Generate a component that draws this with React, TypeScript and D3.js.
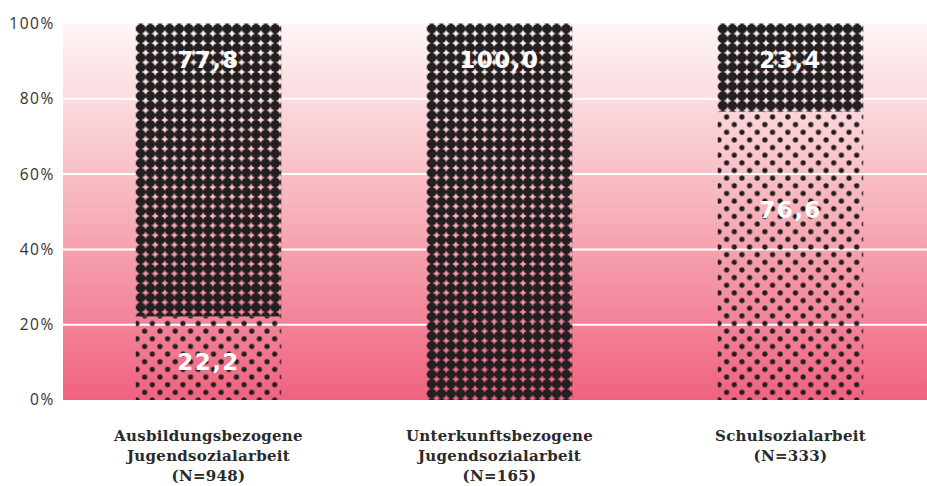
import React from "react";
import * as d3 from "d3";

// Arbeitsfelder der Jugendsozialarbeit, Anteile in Prozent
const categories = [
  ["Ausbildungsbezogene", "Jugendsozialarbeit", "(N=948)"],
  ["Unterkunftsbezogene", "Jugendsozialarbeit", "(N=165)"],
  ["Schulsozialarbeit", "(N=333)"],
];
const lowerValues = [22.2, 0, 76.6]; // hell gepunkteter Anteil
const upperValues = [77.8, 100.0, 23.4]; // dunkel gepunkteter Anteil
const yTicks = [0, 20, 40, 60, 80, 100];

const W = 927;
const H = 486;
const plotLeft = 63;
const plotTop = 23.5;
const plotBottom = 400;
// vertical nudges (px) for the lower-segment labels
const lowerLabelNudge = [4, 0, -46];

const fmt = (v: number) => d3.format(".1f")(v).replace(".", ",");

export default function App() {
  const ids = categories.map((_, i) => String(i));
  const x = d3
    .scaleBand<string>()
    .domain(ids)
    .range([plotLeft, 936])
    .paddingInner(0.5)
    .paddingOuter(0.25);
  const y = d3.scaleLinear().domain([0, 100]).range([plotBottom, plotTop]);
  const bw = x.bandwidth();

  const rows = ids.map((id, i) => ({ id, lower: lowerValues[i], upper: upperValues[i] }));
  const stack = d3.stack<any>().keys(["lower", "upper"])(rows);

  const dark = "#231f20";
  const dStep = 9.6;
  const dR = 4.85;
  const sStep = 15.3;
  const sR = 2.6;

  return (
    <div style={{ position: "absolute", left: 0, top: 0 }}>
      <svg width={W} height={H} style={{ display: "block", background: "#fff" }}>
        <defs>
          <linearGradient id="bg" x1="0" y1="0" x2="0" y2="1">
            <stop offset="0" stopColor="#fef6f6" />
            <stop offset="0.5" stopColor="#f7b1ba" />
            <stop offset="1" stopColor="#f0627f" />
          </linearGradient>
          {ids.map((id) => {
            const bx = Math.round(x(id) as number);
            return (
              <React.Fragment key={id}>
                <pattern
                  id={`dense-${id}`}
                  patternUnits="userSpaceOnUse"
                  width={dStep}
                  height={dStep}
                  x={bx}
                  y={Math.round(plotTop)}
                >
                  <circle cx={dStep / 2} cy={dStep / 2} r={dR} fill={dark} />
                </pattern>
                <pattern
                  id={`sparse-${id}`}
                  patternUnits="userSpaceOnUse"
                  width={sStep}
                  height={sStep}
                  x={bx + 1}
                  y={plotBottom}
                >
                  <circle cx={0} cy={0} r={sR} fill={dark} />
                  <circle cx={sStep} cy={0} r={sR} fill={dark} />
                  <circle cx={0} cy={sStep} r={sR} fill={dark} />
                  <circle cx={sStep} cy={sStep} r={sR} fill={dark} />
                  <circle cx={sStep / 2} cy={sStep / 2} r={sR} fill={dark} />
                </pattern>
              </React.Fragment>
            );
          })}
        </defs>

        <rect
          x={plotLeft}
          y={plotTop}
          width={W - plotLeft}
          height={plotBottom - plotTop}
          fill="url(#bg)"
        />

        {yTicks
          .filter((t) => t > 0 && t < 100)
          .map((t) => (
            <line
              key={t}
              x1={plotLeft}
              x2={W}
              y1={y(t)}
              y2={y(t)}
              stroke="#fff"
              strokeWidth={2}
            />
          ))}

        {yTicks.map((t) => (
          <text
            key={t}
            x={55}
            y={y(t)}
            dy="0.35em"
            textAnchor="end"
            fontFamily="'Open Sans', sans-serif"
            fontSize={15.5}
            letterSpacing={1.6}
            fill="#333"
          >
            {t}%
          </text>
        ))}

        {stack.map((layer) =>
          layer.map((d, i) => {
            const id = ids[i];
            const h = y(d[0]) - y(d[1]);
            if (h <= 0) return null;
            const kind = layer.key === "lower" ? "sparse" : "dense";
            return (
              <rect
                key={`${layer.key}-${id}`}
                x={x(id)}
                y={y(d[1])}
                width={bw}
                height={h}
                fill={`url(#${kind}-${id})`}
              />
            );
          })
        )}

        {stack.map((layer) =>
          layer.map((d, i) => {
            const id = ids[i];
            const v = d[1] - d[0];
            if (v <= 0) return null;
            const cy =
              layer.key === "upper"
                ? y(d[1]) + 36
                : y((d[0] + d[1]) / 2) + lowerLabelNudge[i];
            return (
              <text
                key={`lbl-${layer.key}-${id}`}
                x={(x(id) as number) + bw / 2}
                y={cy}
                dy="0.36em"
                textAnchor="middle"
                fontFamily="'DejaVu Sans', sans-serif"
                fontWeight="bold"
                fontSize={23}
                letterSpacing={1.5}
                fill="#fff"
              >
                {fmt(v)}
              </text>
            );
          })
        )}

        {categories.map((lines, i) => (
          <text
            key={`cat-${i}`}
            x={(x(ids[i]) as number) + bw / 2}
            y={441}
            textAnchor="middle"
            fontFamily="'DejaVu Serif', serif"
            fontWeight="bold"
            fontSize={15}
            letterSpacing={0.3}
            fill="#2a2a2a"
          >
            {lines.map((l, j) => (
              <tspan key={j} x={(x(ids[i]) as number) + bw / 2} dy={j === 0 ? 0 : 20}>
                {l}
              </tspan>
            ))}
          </text>
        ))}
      </svg>
    </div>
  );
}
